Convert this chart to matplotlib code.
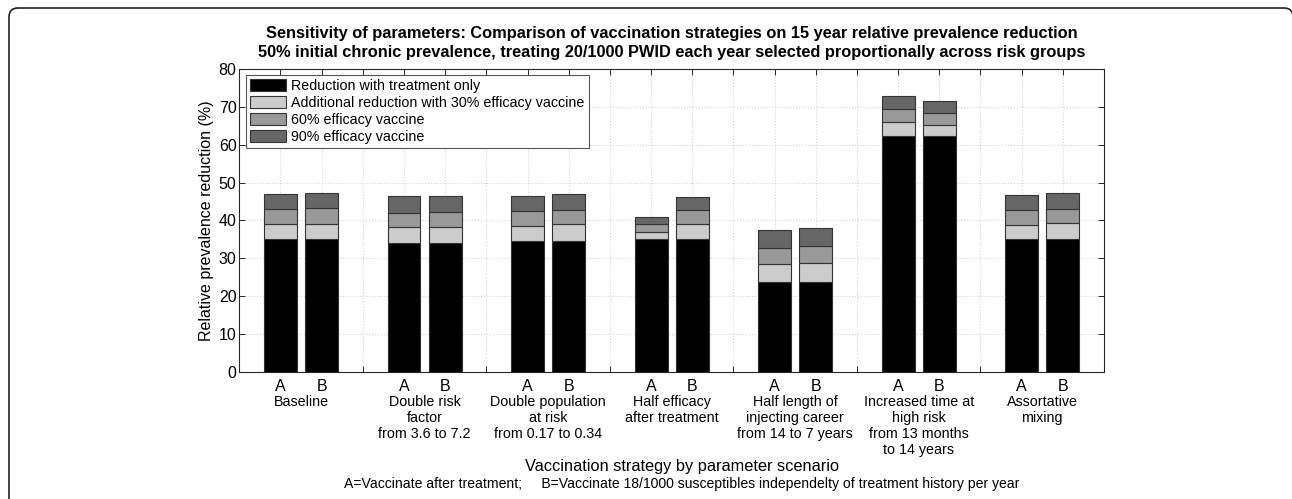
import matplotlib
matplotlib.use("Agg")
import matplotlib.pyplot as plt
from matplotlib.patches import PathPatch, Patch
from matplotlib.path import Path
import numpy as np

plt.rcParams['font.family'] = ['Liberation Sans', 'DejaVu Sans']

scenarios = ["Baseline",
             "Double risk\nfactor\nfrom 3.6 to 7.2",
             "Double population\nat risk\nfrom 0.17 to 0.34",
             "Half efficacy\nafter treatment",
             "Half length of\ninjecting career\nfrom 14 to 7 years",
             "Increased time at\nhigh risk\nfrom 13 months\nto 14 years",
             "Assortative\nmixing"]
strategies = ["A", "B"]

# segment heights, ordered A,B per scenario
treatment = [35.0, 35.0, 34.0, 34.0, 34.7, 34.7, 35.0, 35.0, 23.8, 23.8, 62.4, 62.4, 35.0, 35.0]
add30 = [4.0, 4.2, 4.2, 4.2, 3.8, 4.3, 2.0, 4.0, 4.6, 4.9, 3.7, 2.9, 3.9, 4.3]
add60 = [4.0, 4.2, 3.9, 4.1, 4.1, 3.8, 2.0, 3.7, 4.4, 4.6, 3.5, 3.1, 4.0, 3.8]
add90 = [3.9, 3.9, 4.3, 4.1, 3.9, 4.2, 1.9, 3.5, 4.6, 4.8, 3.3, 3.1, 3.8, 4.1]

series_labels = ["Reduction with treatment only",
                 "Additional reduction with 30% efficacy vaccine",
                 "60% efficacy vaccine",
                 "90% efficacy vaccine"]
colors = ["#000000", "#cccccc", "#999999", "#666666"]

W, H = 1292, 499
fig = plt.figure(figsize=(W / 100, H / 100), dpi=100)
ax = fig.add_axes([239.3 / W, 1 - 371.7 / H, (1104 - 239.3) / W, (371.7 - 69.3) / H])

n = len(scenarios)
pos = []
for g in range(n):
    pos += [3 * g + 1, 3 * g + 2]
pos = np.array(pos, dtype=float)

bottom = np.zeros(len(pos))
for vals, col in zip([treatment, add30, add60, add90], colors):
    v = np.array(vals)
    ax.bar(pos, v, width=0.8, bottom=bottom, color=col, edgecolor="#333333",
           linewidth=0.8, zorder=3)
    bottom += v

ax.set_xlim(0, 3 * n)
ax.set_ylim(0, 80)
ax.set_yticks(np.arange(0, 81, 10))
xt = np.arange(1, 3 * n)
ax.set_xticks(xt)
ax.set_xticklabels([["A", "B", ""][(i - 1) % 3] for i in xt], fontsize=11.5)
ax.tick_params(axis='y', labelsize=11.5, pad=2)
ax.tick_params(direction='in', length=4, width=0.7, color='#262626',
               top=True, right=True, bottom=True, left=True)
ax.tick_params(axis='x', pad=5)
for s in ax.spines.values():
    s.set_color('#262626')
    s.set_linewidth(0.8)
ax.grid(True, color='#d4d4d4', linestyle=':', linewidth=0.8, zorder=0)
ax.set_axisbelow(True)

ax.set_ylabel("Relative prevalence reduction (%)", fontsize=11.5, labelpad=3)

trans = matplotlib.transforms.blended_transform_factory(ax.transData, ax.transAxes)
for g, name in enumerate(scenarios):
    ax.text(3 * g + 1.5, -0.078, name, transform=trans, ha='center', va='top',
            fontsize=10.3, linespacing=1.17)

fig.text(682 / W, 1 - 466 / H, "Vaccination strategy by parameter scenario",
         ha='center', va='center', fontsize=11.8)
fig.text(682 / W, 1 - 484 / H,
         "A=Vaccinate after treatment;     B=Vaccinate 18/1000 susceptibles independelty of treatment history per year",
         ha='center', va='center', fontsize=10.1)

ax.set_title("Sensitivity of parameters: Comparison of vaccination strategies on 15 year relative prevalence reduction\n"
             "50% initial chronic prevalence, treating 20/1000 PWID each year selected proportionally across risk groups",
             fontsize=11.8, fontweight='bold', pad=9, linespacing=1.32)

handles = [Patch(facecolor=c, edgecolor='#333333', linewidth=0.8) for c in colors]
leg = ax.legend(handles, series_labels, loc='upper left', bbox_to_anchor=(0.0077, 0.981),
                borderaxespad=0, fontsize=10.3, fancybox=False, framealpha=1,
                edgecolor='#555555', handlelength=2.5, handleheight=0.9,
                handletextpad=0.35, labelspacing=0.2, borderpad=0.3)
leg.get_frame().set_linewidth(0.8)
leg.set_zorder(5)

# page frame (left edge, top edge with rounded corners)
xl, yt, xr, r = 9.0, H - 8.0, 1293.0, 9.0
verts = [(xl, -5), (xl, yt - r), (xl, yt), (xl + r, yt),
         (xr - r, yt), (xr, yt), (xr, yt - r)]
codes = [Path.MOVETO, Path.LINETO, Path.CURVE3, Path.CURVE3,
         Path.LINETO, Path.CURVE3, Path.CURVE3]
verts = [(x / W, y / H) for x, y in verts]
frame = PathPatch(Path(verts, codes), transform=fig.transFigure, fill=False,
                  edgecolor='#222222', linewidth=1.2, clip_on=False)
fig.patches.append(frame)

fig.savefig("out.png", dpi=100)
